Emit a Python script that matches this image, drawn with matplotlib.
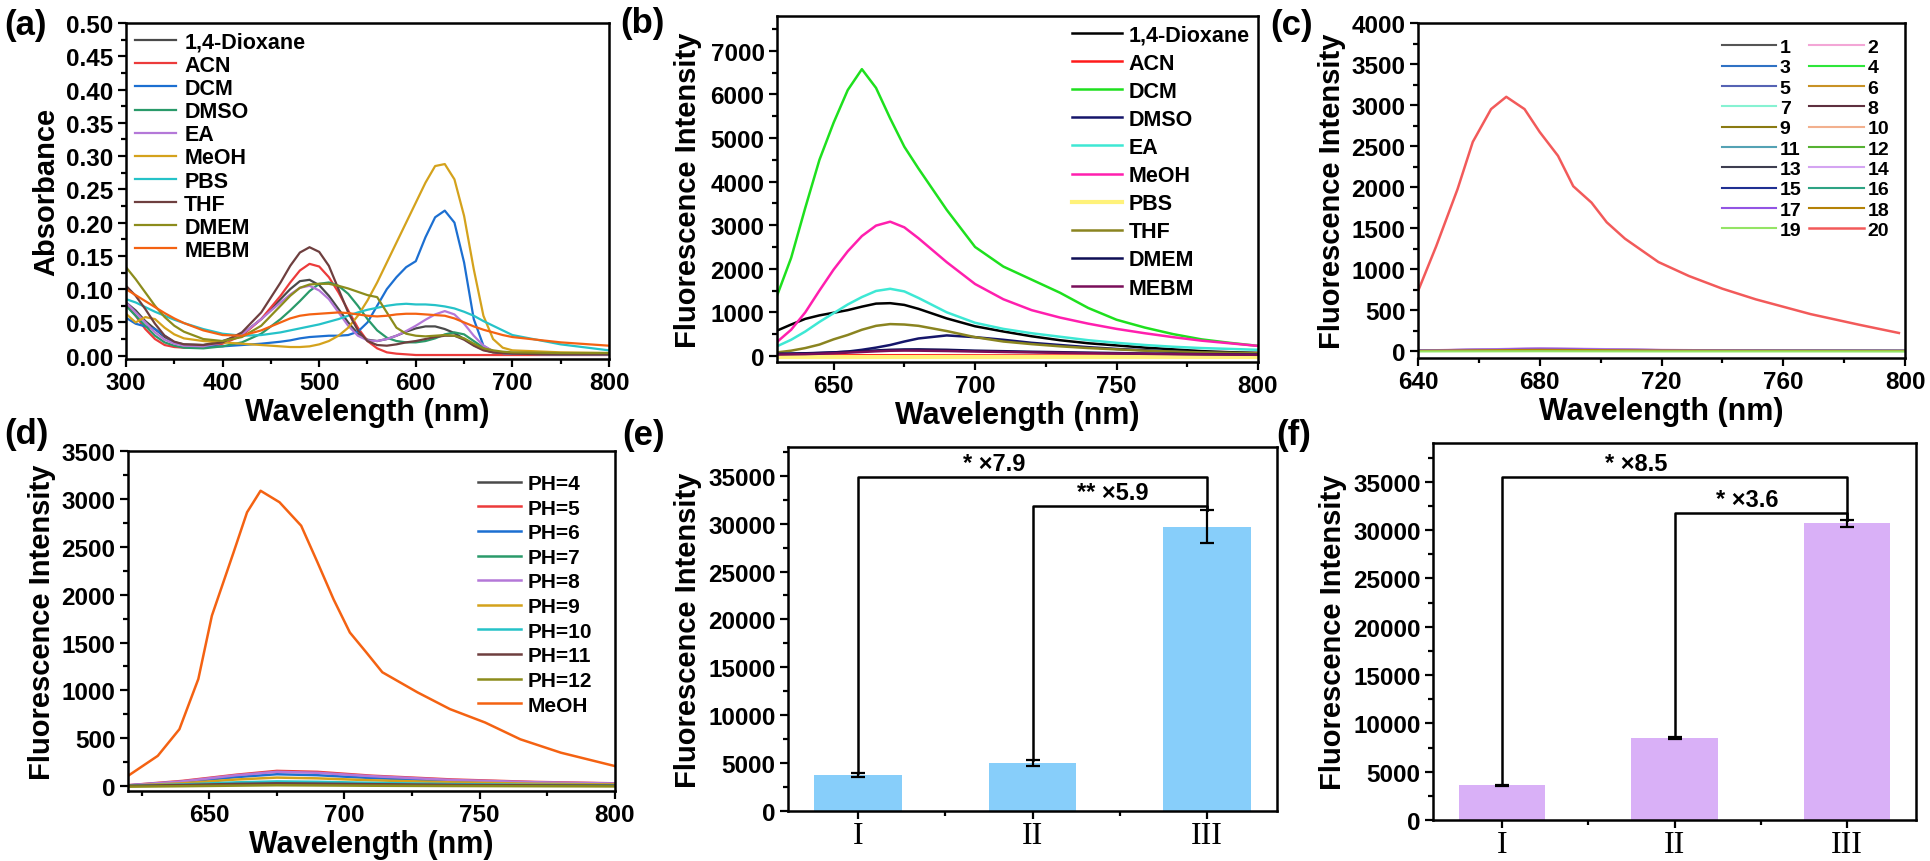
import matplotlib
matplotlib.use('Agg')
import matplotlib.pyplot as plt
from matplotlib.ticker import MultipleLocator, FixedLocator

plt.rcParams['font.family'] = ['Liberation Sans', 'DejaVu Sans']
plt.rcParams['font.weight'] = 'bold'
plt.rcParams['axes.labelweight'] = 'bold'
plt.rcParams['axes.linewidth'] = 1.8

# ---------------- (a) absorbance ----------------
wl_a = [300, 310, 320, 330, 340, 350, 360, 380, 400, 420, 440, 460, 470, 480, 490, 500,
        510, 520, 530, 540, 550, 560, 570, 580, 590, 600, 610, 620, 630, 640, 650, 660,
        670, 680, 690, 700, 750, 800]
solvents_a = ['1,4-Dioxane', 'ACN', 'DCM', 'DMSO', 'EA', 'MeOH', 'PBS', 'THF', 'DMEM', 'MEBM']
colors_a = ['#4a4a4a', '#ec3b3b', '#1c6fd1', '#2a9a6a', '#b478d8', '#d4a21c', '#25c2c8',
            '#6e3f3f', '#8c8c1c', '#f46212']
abs_dioxane = [.080, .068, .052, .040, .028, .020, .017, .016, .022, .032, .055, .085, .100, .112, .114, .106,
               .090, .070, .050, .033, .024, .022, .025, .030, .036, .041, .044, .044, .040, .034, .025, .016,
               .009, .005, .004, .003, .002, .002]
abs_acn = [.078, .060, .040, .025, .016, .013, .012, .012, .018, .030, .055, .090, .110, .128, .138, .134,
           .118, .095, .068, .042, .022, .011, .005, .003, .002, .001, .001, .001, .001, .001, .001, .001,
           .001, .001, .001, .001, .001, .001]
abs_dcm = [.057, .048, .044, .040, .030, .020, .016, .014, .014, .016, .018, .021, .023, .026, .028, .029,
           .030, .030, .031, .036, .050, .075, .100, .118, .133, .142, .178, .208, .218, .200, .140, .055,
           .015, .006, .004, .003, .002, .002]
abs_dmso = [.075, .060, .045, .030, .020, .015, .012, .011, .014, .020, .033, .055, .068, .082, .097, .108,
            .110, .105, .093, .075, .055, .038, .027, .022, .020, .020, .022, .026, .032, .035, .032, .022,
            .012, .006, .004, .003, .002, .002]
abs_ea = [.080, .065, .050, .035, .024, .018, .015, .014, .020, .032, .055, .080, .092, .102, .105, .098,
          .085, .065, .045, .030, .023, .022, .025, .030, .037, .045, .054, .062, .067, .062, .048, .030,
          .015, .007, .004, .003, .002, .002]
abs_meoh = [.063, .050, .058, .055, .042, .032, .026, .022, .020, .018, .016, .014, .013, .013, .014, .017,
            .022, .030, .042, .060, .083, .110, .140, .170, .200, .230, .260, .285, .288, .265, .210, .130,
            .060, .025, .012, .008, .005, .004]
abs_pbs = [.085, .080, .073, .066, .060, .054, .049, .040, .033, .030, .031, .035, .038, .041, .044, .047,
           .051, .055, .060, .065, .069, .072, .075, .077, .078, .077, .077, .076, .074, .071, .066, .060,
           .052, .045, .038, .031, .017, .008]
abs_thf = [.105, .090, .070, .048, .030, .021, .017, .016, .020, .035, .065, .110, .135, .155, .163, .156,
           .135, .100, .065, .038, .022, .016, .015, .017, .020, .022, .025, .028, .030, .030, .024, .015,
           .008, .005, .004, .003, .002, .002]
abs_dmem = [.133, .115, .095, .075, .058, .045, .036, .025, .022, .028, .045, .075, .090, .102, .107, .108,
            .108, .105, .101, .096, .091, .088, .065, .042, .033, .030, .029, .030, .031, .030, .026, .018,
            .011, .008, .006, .005, .004, .004]
abs_mebm = [.100, .091, .082, .073, .064, .056, .049, .038, .031, .030, .038, .050, .056, .060, .062, .063,
            .064, .065, .064, .062, .060, .059, .060, .062, .063, .063, .062, .061, .060, .056, .050, .044,
            .039, .035, .031, .028, .020, .015]
abs_all = [abs_dioxane, abs_acn, abs_dcm, abs_dmso, abs_ea, abs_meoh, abs_pbs, abs_thf, abs_dmem, abs_mebm]

# ---------------- (b) fluorescence in solvents ----------------
wl_b = [630, 635, 640, 645, 650, 655, 660, 665, 670, 675, 680, 690, 700, 710, 720, 730, 740, 750,
        760, 770, 780, 790, 800]
colors_b = ['#000000', '#ff1a1a', '#1ee01e', '#15156a', '#3ee8d4', '#ff1fae', '#fff27a', '#8a8420',
            '#0f0f55', '#7a0f5a']
fl_dioxane = [580, 720, 850, 930, 990, 1050, 1130, 1200, 1210, 1170, 1080, 860, 680, 560, 450, 360, 290,
              240, 190, 150, 110, 85, 70]
fl_acn = [10, 10, 10, 12, 12, 14, 15, 15, 15, 15, 14, 13, 12, 11, 10, 10, 9, 9, 8, 8, 7, 7, 6]
fl_dcm = [1380, 2250, 3400, 4500, 5350, 6100, 6580, 6150, 5450, 4800, 4300, 3350, 2500, 2050, 1750, 1450,
          1100, 830, 650, 500, 380, 300, 230]
fl_dmso = [40, 45, 55, 65, 80, 100, 140, 190, 250, 330, 400, 470, 430, 370, 300, 250, 200, 160, 130, 100,
           80, 65, 50]
fl_ea = [220, 370, 560, 780, 980, 1180, 1350, 1490, 1540, 1480, 1330, 1000, 760, 620, 520, 440, 360, 300,
         250, 210, 180, 160, 140]
fl_meoh = [320, 600, 1000, 1500, 1980, 2400, 2750, 2990, 3080, 2950, 2700, 2150, 1650, 1300, 1050, 880,
           740, 620, 520, 430, 350, 290, 230]
fl_pbs = [-30, -30, -30, -30, -30, -30, -30, -30, -30, -30, -30, -30, -30, -30, -30, -30, -30, -30, -30,
          -30, -30, -30, -30]
fl_thf = [80, 120, 180, 260, 380, 480, 600, 690, 730, 720, 690, 570, 430, 330, 270, 220, 180, 150, 120,
          100, 80, 70, 60]
fl_dmem = [50, 55, 60, 70, 80, 95, 110, 125, 140, 148, 150, 140, 120, 108, 95, 85, 75, 65, 55, 48, 40,
           35, 30]
fl_mebm = [30, 35, 40, 50, 60, 75, 90, 105, 118, 122, 120, 112, 100, 90, 80, 70, 62, 55, 48, 40, 35, 30, 25]
fl_all = [fl_dioxane, fl_acn, fl_dcm, fl_dmso, fl_ea, fl_meoh, fl_pbs, fl_thf, fl_dmem, fl_mebm]

# ---------------- (c) 20 samples ----------------
wl_c20 = [640, 646, 653, 658, 664, 669, 675, 680, 686, 691, 697, 702, 708, 719, 729, 740, 751, 769, 785, 798]
fl_c20 = [730, 1280, 1975, 2550, 2950, 3100, 2950, 2670, 2380, 2010, 1810, 1570, 1370, 1085, 915, 760,
          630, 450, 320, 220]
wl_c = [640, 660, 680, 700, 720, 760, 800]
colors_c = ['#555555', '#f3a6d6', '#2f72c4', '#2ee63a', '#5563b4', '#c89226', '#86f2d2', '#5e2f3f',
            '#8a7a12', '#f2b08e', '#54a2b4', '#56b232', '#3e3e50', '#d4a4f2', '#1f2f92', '#2ea384',
            '#9254e4', '#b48206', '#94e464', '#f25a5a']
fl_c_low = [
    [5, 15, 25, 18, 10, 4, 2],
    [8, 20, 32, 24, 14, 6, 3],
    [4, 12, 20, 15, 8, 3, 1],
    [2, 6, 10, 8, 4, 2, 0],
    [6, 18, 30, 22, 12, 5, 2],
    [3, 10, 18, 13, 7, 3, 1],
    [2, 7, 12, 9, 5, 2, 1],
    [4, 12, 22, 16, 9, 4, 2],
    [3, 9, 15, 11, 6, 3, 1],
    [5, 14, 24, 17, 9, 4, 2],
    [3, 10, 16, 12, 7, 3, 1],
    [1, 4, 7, 5, 3, 1, 0],
    [4, 11, 19, 14, 8, 3, 1],
    [7, 20, 34, 25, 14, 6, 3],
    [3, 8, 14, 10, 6, 2, 1],
    [2, 6, 11, 8, 4, 2, 1],
    [6, 17, 28, 20, 11, 5, 2],
    [3, 9, 15, 11, 6, 3, 1],
    [-5, -4, -3, -4, -5, -5, -5],
]
labels_c = [str(i) for i in range(1, 21)]

# ---------------- (d) pH ----------------
wl_d_meoh = [620, 631, 639, 646, 651, 659, 664, 669, 676, 684, 690, 696, 702, 708, 714, 727, 739, 752,
             765, 780, 800]
fl_d_meoh = [108, 317, 595, 1120, 1780, 2440, 2860, 3085, 2965, 2720, 2340, 1950, 1605, 1400, 1190, 980,
             805, 665, 490, 350, 210]
wl_d = [620, 640, 660, 675, 690, 710, 740, 770, 800]
labels_d = ['PH=4', 'PH=5', 'PH=6', 'PH=7', 'PH=8', 'PH=9', 'PH=10', 'PH=11', 'PH=12', 'MeOH']
colors_d = ['#4a4a4a', '#ec3b3b', '#1c6fd1', '#2a9a6a', '#b478d8', '#d4a21c', '#25c2c8', '#6e3f3f',
            '#8c8c1c', '#f46212']
fl_d_ph = [
    [5, 10, 16, 20, 18, 14, 10, 6, 4],
    [10, 55, 120, 160, 150, 110, 70, 45, 30],
    [8, 45, 95, 125, 115, 85, 55, 35, 22],
    [5, 18, 32, 40, 36, 28, 18, 12, 8],
    [10, 50, 115, 150, 140, 105, 65, 42, 28],
    [6, 30, 70, 90, 82, 62, 40, 26, 18],
    [5, 18, 40, 50, 46, 35, 22, 14, 10],
    [4, 12, 24, 30, 27, 21, 14, 9, 6],
    [-5, 0, 6, 10, 8, 5, 2, 0, -2],
]

# ---------------- (e) & (f) bars ----------------
groups = ['I', 'II', 'III']
bars_e = [3750, 5000, 29700]
err_e = [200, 300, 1700]
bars_f = [3600, 8450, 30700]
err_f = [60, 120, 350]

fig = plt.figure(figsize=(19.3, 8.62), dpi=100)
W, H = 1930.0, 862.0


def add_ax(l, t, r, b):
    return fig.add_axes([l / W, 1 - b / H, (r - l) / W, (b - t) / H])


def style(ax, fs=17.5):
    ax.tick_params(which='both', direction='out', top=False, right=False, width=1.6, labelsize=fs, pad=3)
    ax.tick_params(which='major', length=6)
    ax.tick_params(which='minor', length=3.5)
    for lab in ax.get_xticklabels() + ax.get_yticklabels():
        lab.set_fontweight('bold')


ax_a = add_ax(126, 24, 609, 360)
ax_b = add_ax(777, 17, 1258, 363)
ax_c = add_ax(1418, 24, 1905, 359)
ax_d = add_ax(128, 452, 615, 792)
ax_e = add_ax(788, 448, 1277, 812)
ax_f = add_ax(1433, 444, 1916, 821)

# (a)
for name, col, ys in zip(solvents_a, colors_a, abs_all):
    ax_a.plot(wl_a, ys, color=col, lw=1.6, label=name)
ax_a.set_xlim(300, 800)
ax_a.set_ylim(-0.005, 0.5)
ax_a.xaxis.set_major_locator(MultipleLocator(100))
ax_a.xaxis.set_minor_locator(MultipleLocator(50))
ax_a.yaxis.set_major_locator(MultipleLocator(0.05))
ax_a.yaxis.set_minor_locator(MultipleLocator(0.025))
ax_a.yaxis.set_major_formatter(matplotlib.ticker.FormatStrFormatter('%.2f'))
ax_a.set_xlabel('Wavelength (nm)', fontsize=22, labelpad=2)
ax_a.set_ylabel('Absorbance', fontsize=21, labelpad=4)
style(ax_a)
ax_a.legend(loc='upper left', frameon=False, fontsize=15.5, handlelength=1.9, handletextpad=0.4,
            labelspacing=0.1, borderaxespad=0.2, borderpad=0.2)

# (b)
for name, col, ys in zip(solvents_a, colors_b, fl_all):
    lw = 3 if name == 'PBS' else 1.8
    ax_b.plot(wl_b, ys, color=col, lw=lw, label=name)
ax_b.set_xlim(630, 800)
ax_b.set_ylim(-140, 7800)
ax_b.xaxis.set_major_locator(MultipleLocator(50))
ax_b.xaxis.set_minor_locator(MultipleLocator(25))
ax_b.yaxis.set_major_locator(MultipleLocator(1000))
ax_b.yaxis.set_minor_locator(MultipleLocator(500))
ax_b.set_xlabel('Wavelength (nm)', fontsize=22, labelpad=2)
ax_b.set_ylabel('Fluorescence Intensity', fontsize=21, labelpad=6)
style(ax_b)
ax_b.legend(loc='upper right', frameon=False, fontsize=15.5, handlelength=2.3, handletextpad=0.3,
            labelspacing=0.33, borderaxespad=0.2, borderpad=0.2)

# (c)
lines_c = []
for lab, col, ys in zip(labels_c[:19], colors_c[:19], fl_c_low):
    lines_c += ax_c.plot(wl_c, ys, color=col, lw=1.5, label=lab)
lines_c += ax_c.plot(wl_c20, fl_c20, color=colors_c[19], lw=1.8, label=labels_c[19])
ax_c.set_xlim(640, 800)
ax_c.set_ylim(-85, 4000)
ax_c.xaxis.set_major_locator(MultipleLocator(40))
ax_c.xaxis.set_minor_locator(MultipleLocator(20))
ax_c.yaxis.set_major_locator(MultipleLocator(500))
ax_c.yaxis.set_minor_locator(MultipleLocator(250))
ax_c.set_xlabel('Wavelength (nm)', fontsize=22, labelpad=2)
ax_c.set_ylabel('Fluorescence Intensity', fontsize=21, labelpad=4)
style(ax_c)
# legend filled row by row: odd numbers left column, even numbers right column
order = list(range(0, 20, 2)) + list(range(1, 20, 2))
ax_c.legend([lines_c[i] for i in order], [labels_c[i] for i in order], loc='upper right', ncol=2,
            frameon=False, fontsize=14, handlelength=2.8, handletextpad=0.2, labelspacing=0.14,
            columnspacing=0.4, borderaxespad=0.6, borderpad=0.2)

# (d)
for lab, col, ys in zip(labels_d[:9], colors_d[:9], fl_d_ph):
    ax_d.plot(wl_d, ys, color=col, lw=1.8, label=lab)
ax_d.plot(wl_d_meoh, fl_d_meoh, color=colors_d[9], lw=1.8, label=labels_d[9])
ax_d.set_xlim(620, 800)
ax_d.set_ylim(-50, 3500)
ax_d.xaxis.set_major_locator(MultipleLocator(50))
ax_d.xaxis.set_minor_locator(MultipleLocator(25))
ax_d.yaxis.set_major_locator(MultipleLocator(500))
ax_d.yaxis.set_minor_locator(MultipleLocator(250))
ax_d.set_xlabel('Wavelength (nm)', fontsize=22, labelpad=2)
ax_d.set_ylabel('Fluorescence Intensity', fontsize=21, labelpad=4)
style(ax_d)
ax_d.legend(loc='upper right', frameon=False, fontsize=15, handlelength=2.1, handletextpad=0.3,
            labelspacing=0.27, borderaxespad=0.9, borderpad=0.2)


# (e), (f)
def bar_panel(ax, vals, errs, color, ymax, brackets, notes):
    xs = [1, 2, 3]
    ax.bar(xs, vals, width=0.5, color=color, edgecolor='none', zorder=1)
    ax.errorbar(xs, vals, yerr=errs, fmt='none', ecolor='black', elinewidth=1.6, capsize=5,
                capthick=1.6, zorder=3)
    for (i, j, h) in brackets:
        y0 = vals[i] + errs[i]
        y1 = vals[j] + errs[j]
        ax.plot([xs[i], xs[i], xs[j], xs[j]], [y0, h, h, y1], color='black', lw=1.8, zorder=2)
    for (x, y, txt) in notes:
        ax.text(x, y, txt, ha='center', va='center', fontsize=17, fontweight='bold')
    ax.set_xlim(0.6, 3.4)
    ax.set_ylim(0, ymax)
    ax.xaxis.set_major_locator(FixedLocator(xs))
    ax.xaxis.set_minor_locator(FixedLocator([1.5, 2.5]))
    ax.yaxis.set_major_locator(MultipleLocator(5000))
    ax.yaxis.set_minor_locator(MultipleLocator(2500))
    ax.set_ylabel('Fluorescence Intensity', fontsize=21, labelpad=4)
    style(ax)
    ax.tick_params(axis='x', pad=1)
    ax.set_xticks(xs)
    ax.set_xticklabels(groups, fontfamily='Liberation Serif', fontweight='normal', fontsize=23)


bar_panel(ax_e, bars_e, err_e, '#87cefa', 38000,
          [(0, 2, 34900), (1, 2, 31800)],
          [(1.78, 36300, '* ×7.9'), (2.46, 33300, '** ×5.9')])
bar_panel(ax_f, bars_f, err_f, '#d9b0f7', 39000,
          [(0, 2, 35500), (1, 2, 31800)],
          [(1.78, 36900, '* ×8.5'), (2.42, 33200, '* ×3.6')])

# panel letters
for lab, px, py in [('(a)', 25, 25), ('(b)', 642, 23), ('(c)', 1292, 25),
                    ('(d)', 26, 435), ('(e)', 644, 436), ('(f)', 1294, 436)]:
    fig.text(px / W, 1 - py / H, lab, ha='center', va='center', fontsize=25, fontweight='bold')

fig.savefig('out.png', dpi=100)
